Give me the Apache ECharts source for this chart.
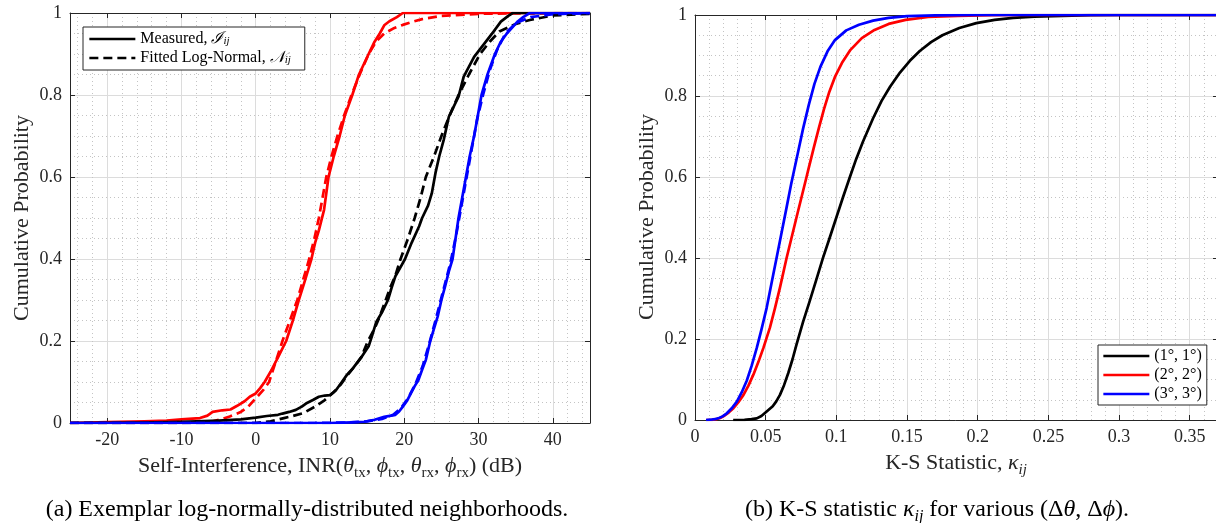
<!DOCTYPE html>
<html>
<head>
<meta charset="utf-8">
<script src="https://cdn.jsdelivr.net/npm/echarts@6/dist/echarts.min.js"></script>
<style>
  html, body { margin: 0; padding: 0; background: #fff; }
  #chart { width: 1216px; height: 523px; }
</style>
</head>
<body>
<div id="chart"></div>
<script>
// ---------- (a) INR CDFs: [INR (dB), cumulative probability] ----------
const redMeasured = [[-25,0],[-20,0.002],[-15,0.004],[-12,0.006],[-10,0.009],[-7.5,0.012],[-6.5,0.018],[-5.8,0.027],[-4.5,0.031],[-3.4,0.033],[-2.5,0.042],[-1.5,0.053],[-0.8,0.064],[0,0.072],[0.6,0.085],[1.2,0.1],[2,0.125],[3,0.16],[4.1,0.2],[5,0.25],[5.8,0.3],[6.5,0.34],[7,0.37],[7.5,0.4],[8,0.44],[8.5,0.47],[9.2,0.52],[9.8,0.6],[10.5,0.65],[11.3,0.7],[12,0.75],[13,0.8],[13.9,0.85],[15.2,0.9],[16,0.93],[16.7,0.95],[17.3,0.97],[18,0.98],[19,0.99],[19.8,1],[45,1]];
const redFitted = [[-25,0],[-10,0],[-6,0.003],[-4.5,0.01],[-3.5,0.016],[-2.1,0.026],[-1,0.04],[0,0.06],[1,0.08],[1.8,0.1],[2.7,0.15],[3.6,0.2],[4.6,0.25],[5.6,0.3],[6.4,0.35],[7.2,0.4],[7.9,0.45],[8.5,0.5],[9.5,0.6],[10.2,0.65],[11,0.7],[11.9,0.75],[12.9,0.8],[14,0.85],[15.2,0.9],[16.2,0.93],[17.3,0.95],[18.5,0.962],[19.8,0.971],[21,0.978],[22.4,0.985],[25,0.993],[30,0.998],[35,0.999],[45,1]];
const blackMeasured = [[-25,0],[-15,0.001],[-10,0.003],[-5,0.006],[-2,0.009],[0,0.013],[1.5,0.017],[3,0.02],[3.6,0.023],[4.5,0.027],[5.4,0.032],[6.2,0.04],[6.9,0.049],[7.7,0.056],[8.5,0.064],[9.3,0.067],[10,0.068],[10.8,0.08],[11.6,0.1],[12.3,0.118],[13.1,0.134],[14.2,0.16],[15.2,0.187],[15.7,0.215],[16.2,0.245],[17,0.27],[17.8,0.3],[18.3,0.33],[18.8,0.358],[19.5,0.38],[20.1,0.4],[21,0.44],[22,0.48],[22.4,0.5],[23.2,0.53],[23.7,0.56],[24.2,0.61],[24.7,0.65],[25.3,0.69],[26,0.747],[27.3,0.796],[28,0.845],[29.4,0.893],[30.8,0.926],[32.2,0.959],[33,0.979],[34,0.993],[34.6,1],[45,1]];
const blackFitted = [[-25,0],[0,0],[2,0.004],[3.8,0.012],[5,0.017],[6.4,0.024],[8,0.04],[9.3,0.056],[10.5,0.075],[11.5,0.095],[12.5,0.12],[13.4,0.14],[14.2,0.16],[15.1,0.2],[16,0.23],[16.7,0.26],[17.3,0.29],[18.1,0.33],[18.8,0.36],[19.5,0.4],[20.5,0.45],[21.4,0.5],[22.2,0.55],[22.9,0.6],[24,0.65],[25,0.7],[26.1,0.75],[27.3,0.8],[28.7,0.85],[30.2,0.9],[31.5,0.93],[32.8,0.955],[35,0.973],[36.9,0.983],[40,0.994],[45,0.998]];
const blueMeasured = [[-25,0],[10,0],[12,0.001],[14.6,0.003],[16,0.008],[17.3,0.015],[18.8,0.02],[19.3,0.028],[19.8,0.04],[20.4,0.055],[20.9,0.073],[21.4,0.09],[21.9,0.105],[22.4,0.13],[22.9,0.154],[23.5,0.2],[24,0.23],[24.5,0.26],[25,0.3],[25.5,0.334],[26,0.37],[26.5,0.4],[27.3,0.5],[27.8,0.55],[28.3,0.6],[28.8,0.65],[29.4,0.7],[29.9,0.75],[30.4,0.8],[31.2,0.85],[32.2,0.9],[33,0.93],[33.8,0.95],[35.3,0.98],[36,0.99],[36.9,1],[45,1]];
const blueFitted = [[-25,0],[8,0],[12,0.001],[15,0.004],[17,0.01],[18.5,0.02],[19.5,0.035],[20.5,0.06],[21.5,0.095],[22.5,0.14],[23.3,0.19],[24.2,0.25],[25.2,0.32],[26.2,0.39],[27,0.46],[27.7,0.53],[28.4,0.6],[29.1,0.67],[29.8,0.74],[30.6,0.8],[31.5,0.86],[32.5,0.91],[33.6,0.95],[35,0.975],[37,0.99],[40,0.997],[45,1]];

// ---------- (b) K-S statistic CDFs: [kappa, cumulative probability] ----------
const ks1deg = [[0.027,0],[0.035,0.0005],[0.04,0.002],[0.0437,0.004],[0.047,0.01],[0.0507,0.021],[0.055,0.034],[0.0575,0.046],[0.0601,0.062],[0.063,0.086],[0.066,0.116],[0.069,0.15],[0.0718,0.186],[0.0765,0.243],[0.0812,0.294],[0.0859,0.347],[0.0906,0.401],[0.095,0.447],[0.1,0.5],[0.1047,0.55],[0.1094,0.598],[0.114,0.644],[0.1188,0.687],[0.126,0.745],[0.132,0.788],[0.138,0.823],[0.145,0.858],[0.152,0.887],[0.159,0.911],[0.167,0.933],[0.175,0.95],[0.187,0.968],[0.199,0.98],[0.212,0.988],[0.225,0.993],[0.24,0.996],[0.26,0.998],[0.28,0.9995],[0.3,1],[0.37,1]];
const ks2deg = [[0.008,0],[0.012,0.0005],[0.015,0.002],[0.0178,0.005],[0.021,0.011],[0.024,0.019],[0.0272,0.029],[0.0307,0.044],[0.0343,0.062],[0.0378,0.085],[0.0413,0.112],[0.0448,0.143],[0.0484,0.178],[0.053,0.228],[0.0565,0.275],[0.0601,0.327],[0.0648,0.4],[0.0683,0.45],[0.0718,0.5],[0.0789,0.6],[0.0803,0.62],[0.084,0.672],[0.0877,0.722],[0.0913,0.768],[0.095,0.81],[0.099,0.847],[0.104,0.882],[0.11,0.914],[0.118,0.943],[0.127,0.963],[0.137,0.978],[0.149,0.988],[0.165,0.995],[0.186,0.998],[0.21,0.9995],[0.23,1],[0.37,1]];
const ks3deg = [[0.0078,0],[0.011,0.0007],[0.014,0.002],[0.017,0.005],[0.0195,0.009],[0.0225,0.0165],[0.026,0.029],[0.0296,0.0455],[0.033,0.068],[0.0366,0.097],[0.04,0.133],[0.0437,0.178],[0.047,0.223],[0.0507,0.277],[0.0554,0.36],[0.0577,0.4],[0.061,0.458],[0.0648,0.525],[0.068,0.582],[0.0725,0.655],[0.0765,0.72],[0.0805,0.778],[0.0845,0.83],[0.0887,0.872],[0.094,0.912],[0.099,0.938],[0.107,0.962],[0.116,0.976],[0.126,0.986],[0.137,0.993],[0.15,0.997],[0.17,0.999],[0.2,1],[0.37,1]];

// ---------- tick labels ----------
const inrTicks = [-20, -10, 0, 10, 20, 30, 40];
const ksTicks = [0, 0.05, 0.1, 0.15, 0.2, 0.25, 0.3, 0.35];
const probTicks = [0, 0.2, 0.4, 0.6, 0.8, 1];
const ksLegend = ['(1°, 1°)', '(2°, 2°)', '(3°, 3°)'];

const SERIF = '"Liberation Serif", "DejaVu Serif", serif';
const AX = '#262626';
const LW = 2.7;
const DASH = [9, 5];

function labelFrom(list) {
  return v => {
    const t = list.find(x => Math.abs(x - v) < 1e-9);
    return t === undefined ? '' : String(t);
  };
}

function mainAxis(extra, ticks, minorSplit) {
  return Object.assign({
    type: 'value',
    axisLine: { show: true, onZero: false, lineStyle: { color: AX, width: 1 } },
    axisTick: { show: true, inside: true, length: 5, lineStyle: { color: AX } },
    minorTick: { show: false, splitNumber: minorSplit },
    splitLine: { show: true, lineStyle: { color: '#dcdcdc', width: 1 } },
    minorSplitLine: { show: true, lineStyle: { color: '#c4c4c4', width: 1, type: [1, 3] } },
    axisLabel: {
      formatter: labelFrom(ticks), fontFamily: SERIF, fontSize: 18, color: AX, margin: 8,
      showMinLabel: true, showMaxLabel: true
    }
  }, extra);
}

function boxAxis(extra) {
  return Object.assign({
    type: 'value',
    axisLine: { show: true, onZero: false, lineStyle: { color: AX, width: 1 } },
    axisTick: { show: true, inside: true, length: 5, lineStyle: { color: AX } },
    splitLine: { show: false },
    axisLabel: { show: false }
  }, extra);
}

function line(name, data, color, dashed, xi) {
  return {
    name, type: 'line', data, xAxisIndex: xi, yAxisIndex: xi,
    symbol: 'none', showSymbol: false, silent: true, animation: false,
    itemStyle: { color },
    lineStyle: { color, width: LW, type: dashed ? DASH : 'solid', join: 'round' }
  };
}

const chart = echarts.init(document.getElementById('chart'), null, { renderer: 'canvas' });

const subRich = (size) => ({
  m: { fontFamily: SERIF, fontSize: size, lineHeight: 30, fill: '#262626', color: '#262626' },
  i: { fontFamily: SERIF, fontSize: size, fontStyle: 'italic', lineHeight: 30, fill: '#262626', color: '#262626' },
  s: { fontFamily: SERIF, fontSize: Math.round(size * 0.68), lineHeight: 14, verticalAlign: 'bottom', fill: '#262626', color: '#262626' },
  si: { fontFamily: SERIF, fontSize: Math.round(size * 0.68), fontStyle: 'italic', lineHeight: 14, verticalAlign: 'bottom', fill: '#262626', color: '#262626' }
});

function txt(x, y, text, size, rot, fill) {
  const rich = subRich(size);
  if (fill) Object.keys(rich).forEach(k => { rich[k].fill = fill; });
  return {
    type: 'text', x, y, rotation: rot || 0, silent: true,
    style: { text, rich, align: 'center', verticalAlign: 'middle', fontFamily: SERIF, fontSize: size, fill: fill || '#262626' }
  };
}

const legendBox = {
  orient: 'vertical', itemWidth: 46, itemHeight: 12, itemGap: 3,
  backgroundColor: '#fff', borderColor: AX, borderWidth: 1, borderRadius: 0,
  selectedMode: false,
  itemStyle: { opacity: 0 },
  lineStyle: { width: LW }
};

const option = {
  animation: false,
  backgroundColor: '#fff',
  grid: [
    { left: 70, top: 13, width: 520, height: 410, containLabel: false, outerBoundsMode: 'none' },
    { left: 695, top: 15, width: 523, height: 405, containLabel: false, outerBoundsMode: 'none' }
  ],
  xAxis: [
    mainAxis({ gridIndex: 0, min: -25, max: 45, splitNumber: 7 }, inrTicks, 5),
    mainAxis({ gridIndex: 1, min: 0, max: 0.37, interval: 0.05 }, ksTicks, 5),
    boxAxis({ gridIndex: 0, position: 'top', min: -25, max: 45, splitNumber: 7 }),
    boxAxis({ gridIndex: 1, position: 'top', min: 0, max: 0.37, interval: 0.05 })
  ],
  yAxis: [
    mainAxis({ gridIndex: 0, min: 0, max: 1, interval: 0.2 }, probTicks, 4),
    mainAxis({ gridIndex: 1, min: 0, max: 1, interval: 0.2 }, probTicks, 4),
    boxAxis({ gridIndex: 0, position: 'right', min: 0, max: 1, interval: 0.2 }),
    boxAxis({ gridIndex: 1, position: 'right', min: 0, max: 1, interval: 0.2 })
  ],
  legend: [
    Object.assign({}, legendBox, {
      data: ['Measured', 'Fitted'], left: 83, top: 27, padding: [4, 14, 4, 5],
      formatter: n => n === 'Measured' ? '{m|Measured, }{c|ℐ}{s|ij}' : '{m|Fitted Log-Normal, }{c|𝒩}{s|ij}',
      textStyle: {
        fontFamily: SERIF, fontSize: 16, color: '#000', lineHeight: 16,
        rich: {
          m: { fontFamily: SERIF, fontSize: 16, lineHeight: 16, color: '#000' },
          c: { fontFamily: SERIF, fontSize: 16, fontStyle: 'italic', lineHeight: 16, color: '#000' },
          s: { fontFamily: SERIF, fontSize: 11, fontStyle: 'italic', lineHeight: 8, verticalAlign: 'bottom', color: '#000' }
        }
      }
    }),
    Object.assign({}, legendBox, {
      data: ['k1', 'k2', 'k3'], left: 1098, top: 345, padding: [3, 5, 3, 4],
      formatter: n => ksLegend[Number(n.slice(1)) - 1],
      textStyle: { fontFamily: SERIF, fontSize: 16, color: '#000', lineHeight: 16 }
    })
  ],
  series: [
    line('Measured', [], '#000', false, 0),
    line('Fitted', [], '#000', true, 0),
    line('rm', redMeasured, '#ff0000', false, 0),
    line('rf', redFitted, '#ff0000', true, 0),
    line('bm', blackMeasured, '#000000', false, 0),
    line('bf', blackFitted, '#000000', true, 0),
    line('um', blueMeasured, '#0000ff', false, 0),
    line('uf', blueFitted, '#0000ff', true, 0),
    line('k1', ks1deg, '#000000', false, 1),
    line('k2', ks2deg, '#ff0000', false, 1),
    line('k3', ks3deg, '#0000ff', false, 1)
  ],
  graphic: [
    txt(22, 218, '{m|Cumulative Probability}', 22, Math.PI / 2),
    txt(647, 217, '{m|Cumulative Probability}', 22, Math.PI / 2),
    txt(330, 466, '{m|Self-Interference, INR(}{i|θ}{s|tx}{m|, }{i|ϕ}{s|tx}{m|, }{i|θ}{s|rx}{m|, }{i|ϕ}{s|rx}{m|) (dB)}', 22, 0),
    txt(956, 463, '{m|K-S Statistic, }{i|κ}{si|ij}', 22, 0),
    txt(307, 510, '{m|(a) Exemplar log-normally-distributed neighborhoods.}', 24, 0, '#000'),
    txt(937, 510, '{m|(b) K-S statistic }{i|κ}{si|ij}{m| for various (Δ}{i|θ}{m|, Δ}{i|ϕ}{m|).}', 24, 0, '#000')
  ]
};

chart.setOption(option);
</script>
</body>
</html>
